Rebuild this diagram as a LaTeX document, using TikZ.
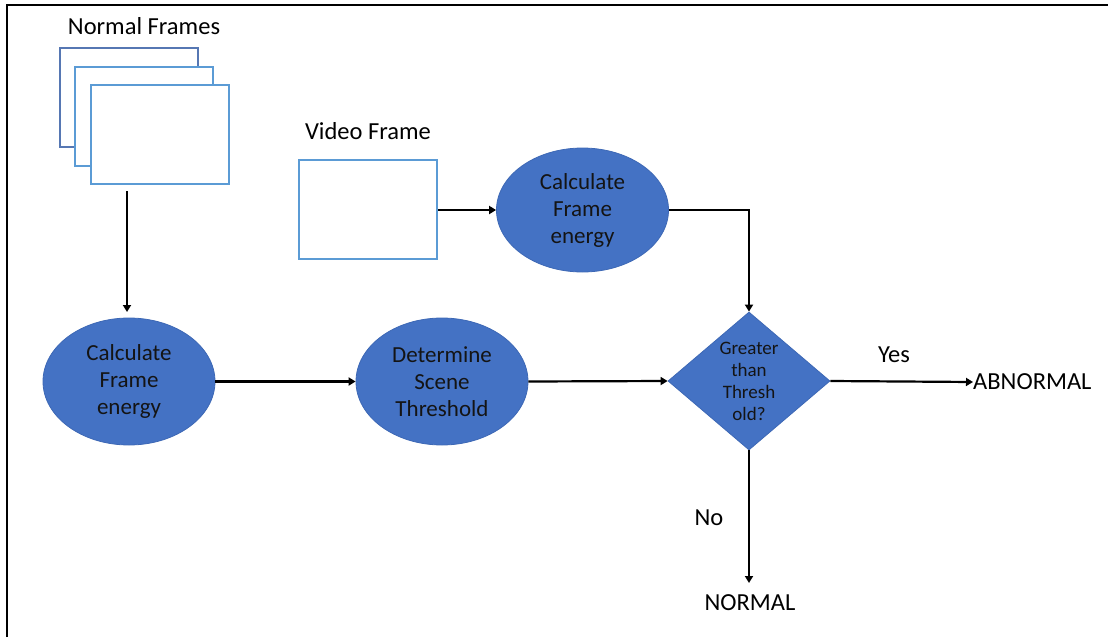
\documentclass[tikz,border=0pt]{standalone}
\usepackage{fontspec}
\setmainfont{Carlito}
\usetikzlibrary{shapes.geometric,arrows.meta}
\definecolor{fillblue}{HTML}{4472C4}
\definecolor{edgeblue}{HTML}{3D68B5}
\definecolor{frameA}{HTML}{5677B3}
\definecolor{frameB}{HTML}{5B9BD5}
\definecolor{txt}{HTML}{141414}
\tikzset{
  lbl/.style={font=\fontsize{24.5}{28}\selectfont, text=black, inner sep=0pt},
  procell/.style={ellipse, fill=fillblue, draw=edgeblue, line width=0.8pt, minimum width=172pt, minimum height=127pt, inner sep=0pt, align=center, text=txt, font=\fontsize{23}{27}\selectfont},
  decide/.style={diamond, fill=fillblue, draw=edgeblue, line width=0.8pt, minimum width=162pt, minimum height=138pt, aspect=1.17, inner sep=0pt, align=center, text=txt, font=\fontsize{19}{22}\selectfont},
  framebox/.style={rectangle, draw=frameB, fill=white, line width=2pt, minimum width=138pt, minimum height=99pt, inner sep=0pt},
  arr/.style={-{Triangle[length=7pt,width=8pt]}, line width=2.2pt, black},
}
\begin{document}
\begin{tikzpicture}[x=1pt,y=-1pt]
\useasboundingbox (0,0) rectangle (1108,637);
% outer frame
\draw[line width=2.4pt] (7,637) -- (7,5) -- (1108,5);
% normal frames
\node[lbl] (nf) at (144,26) {Normal Frames};
\node[framebox, draw=frameA] (f1) at (129,97.5) {};
\node[framebox] (f2) at (143.5,116) {};
\node[framebox] (f3) at (159.5,134) {};
% video frame
\node[lbl] (vf) at (368,131) {Video Frame};
\node[framebox] (v) at (368,209.5) {};
% process nodes
\node[procell] (e1) at (129,381.5) {Calculate\\Frame\\energy};
\node[procell] (e2) at (442,381.5) {Determine\\Scene\\Threshold};
\node[procell, minimum height=124pt] (e3) at (582.5,210) {Calculate\\Frame\\energy};
\node[decide] (d) at (749,381) {Greater\\than\\Thresh\\old?};
% outputs
\node[lbl, anchor=west] (ab) at (973,382) {ABNORMAL};
\node[lbl] (nm) at (750,603) {NORMAL};
\node[lbl] (yes) at (894,355) {Yes};
\node[lbl] (no) at (709,518) {No};
% connectors
\coordinate (s1) at (127,191);
\coordinate (t1) at (127,318);
\coordinate (t2) at (749,583);
\draw[arr, shorten >=6pt] (s1) -- (t1);
\draw[arr] (e1.east) -- (e2.west);
\draw[arr] (e2.east) -- (d.west);
\draw[arr] (v.east |- e3.west) -- (e3.west);
\draw[arr] (e3.east) -| (d.north);
\draw[arr] (d.east) -- (ab.west);
\draw[arr] (d.south) -- (t2);
\end{tikzpicture}
\end{document}
